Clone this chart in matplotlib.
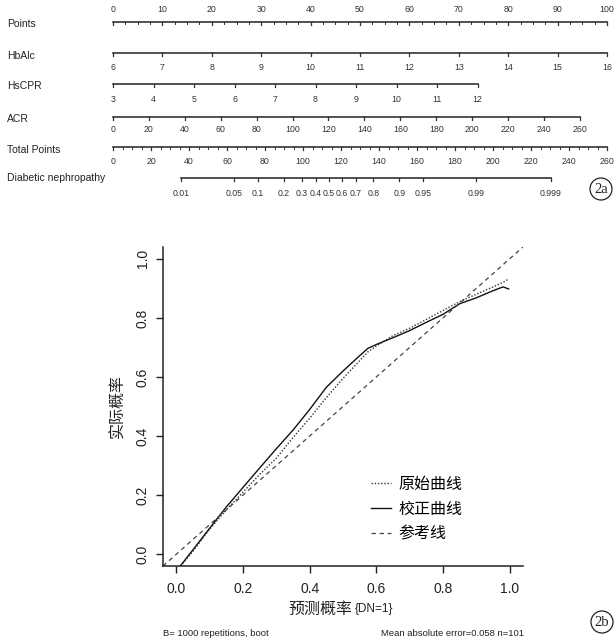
import numpy as np
import matplotlib.pyplot as plt
from matplotlib.patches import Circle

plt.rcParams['font.family'] = ['Liberation Sans', 'DejaVu Sans']
CJK = ['Noto Sans CJK SC', 'DejaVu Sans']

# ---- nomogram (figure 2a) ----
points_ticks = np.arange(0, 101, 10)
hba1c_ticks = np.arange(6, 17, 1)
hscpr_ticks = np.arange(3, 13, 1)
acr_ticks = np.arange(0, 261, 20)
total_ticks = np.arange(0, 261, 20)
dn_probs = [0.01, 0.05, 0.1, 0.2, 0.3, 0.4, 0.5, 0.6, 0.7, 0.8, 0.9, 0.95, 0.99, 0.999]
dn_labels = ["0.01", "0.05", "0.1", "0.2", "0.3", "0.4", "0.5", "0.6", "0.7",
             "0.8", "0.9", "0.95", "0.99", "0.999"]

# points reached at the highest value of each predictor
hba1c_max_points = 100.0
hscpr_max_points = 73.8
acr_max_points = 94.5
# linear predictor = intercept + slope * total points
lp_intercept = -6.711
lp_slope = 0.0591

# ---- calibration curve (figure 2b) ----
pred_prob = [0.012, 0.05, 0.10, 0.15, 0.20, 0.25, 0.30, 0.35, 0.40, 0.45, 0.50,
             0.55, 0.575, 0.60, 0.65, 0.70, 0.75, 0.80, 0.85, 0.90, 0.95, 0.98, 0.997]
apparent = [-0.04, 0.01, 0.085, 0.15, 0.21, 0.27, 0.325, 0.395, 0.46, 0.53, 0.595,
            0.655, 0.685, 0.705, 0.74, 0.765, 0.795, 0.825, 0.855, 0.88, 0.905, 0.92, 0.932]
corrected = [-0.04, 0.015, 0.088, 0.16, 0.226, 0.292, 0.357, 0.42, 0.49, 0.565, 0.62,
             0.672, 0.697, 0.71, 0.733, 0.757, 0.785, 0.812, 0.848, 0.868, 0.892, 0.905, 0.898]

fig = plt.figure(figsize=(6.14, 6.41), dpi=100)

# overlay in pixel coordinates for the nomogram and annotations
nom = fig.add_axes([0, 0, 1, 1])
nom.set_xlim(0, 614)
nom.set_ylim(641, 0)
nom.axis('off')

x0, x100 = 113, 607
px_per_point = (x100 - x0) / 100.0
px_per_total = (x100 - x0) / 260.0
line_col = '#333333'
num_size = 6.3
row_size = 7.5


def scale_row(name, name_y, line_y, pos, labels, label_y, minor=None):
    nom.text(7, name_y, name, ha='left', va='center', fontsize=row_size, color='#222')
    nom.plot([pos[0], pos[-1]], [line_y, line_y], color=line_col, lw=1.2)
    for p in pos:
        nom.plot([p, p], [line_y, line_y + 3], color=line_col, lw=0.9)
    if minor is not None:
        for p in minor:
            nom.plot([p, p], [line_y, line_y + 2], color=line_col, lw=0.7)
    for p, lab in zip(pos, labels):
        nom.text(p, label_y, lab, ha='center', va='center', fontsize=num_size, color='#333')


scale_row('Points', 24, 22, x0 + points_ticks * px_per_point,
          [str(v) for v in points_ticks], 10,
          minor=x0 + np.arange(0, 100.1, 2.5) * px_per_point)

hb_pts = (hba1c_ticks - hba1c_ticks[0]) / (hba1c_ticks[-1] - hba1c_ticks[0]) * hba1c_max_points
scale_row('HbAlc', 56, 53, x0 + hb_pts * px_per_point,
          [str(v) for v in hba1c_ticks], 68)

hs_pts = (hscpr_ticks - hscpr_ticks[0]) / (hscpr_ticks[-1] - hscpr_ticks[0]) * hscpr_max_points
scale_row('HsCPR', 86, 84, x0 + hs_pts * px_per_point,
          [str(v) for v in hscpr_ticks], 100)

acr_pts = (acr_ticks - acr_ticks[0]) / (acr_ticks[-1] - acr_ticks[0]) * acr_max_points
scale_row('ACR', 119, 117, x0 + acr_pts * px_per_point,
          [str(v) for v in acr_ticks], 130)

scale_row('Total Points', 150, 147, x0 + total_ticks * px_per_total,
          [str(v) for v in total_ticks], 161,
          minor=x0 + np.arange(0, 260.1, 5) * px_per_total)

p = np.array(dn_probs)
dn_total = (np.log(p / (1 - p)) - lp_intercept) / lp_slope
scale_row('Diabetic nephropathy', 178, 178, x0 + dn_total * px_per_total,
          dn_labels, 193)


def circled(x, y, s):
    nom.add_patch(Circle((x, y), 11, fill=False, lw=0.9, ec='#222'))
    nom.text(x, y + 0.5, s, ha='center', va='center', fontsize=10.5,
             family=['Liberation Serif', 'DejaVu Serif'], color='#222')


circled(601, 189, '2a')
circled(602, 622, '2b')

# calibration axes
ax = fig.add_axes([163 / 614, 1 - 566 / 641, 360 / 614, 319 / 641])
ax.set_xlim(-0.04, 1.04)
ax.set_ylim(-0.04, 1.04)
ax.patch.set_alpha(0)
for s in ['top', 'right']:
    ax.spines[s].set_visible(False)
for s in ['left', 'bottom']:
    ax.spines[s].set_linewidth(1.1)
    ax.spines[s].set_color('#222')

ticks = np.arange(0, 1.01, 0.2)
ax.set_xticks(ticks)
ax.set_yticks(ticks)
ax.set_xticklabels([f'{t:.1f}' for t in ticks])
ax.set_yticklabels([f'{t:.1f}' for t in ticks], rotation=90, va='center')
ax.tick_params(length=5, width=1, colors='#222', labelsize=10)
ax.tick_params(axis='x', pad=6.5)
ax.tick_params(axis='y', pad=4.5)

ax.plot(pred_prob, apparent, color='#333', lw=1.0, ls=(0, (1, 1.3)), label='原始曲线')
ax.plot(pred_prob, corrected, color='#111', lw=1.0, ls='-', label='校正曲线')
ax.axline((0, 0), (1, 1), color='#444', lw=0.9, ls=(0, (3.5, 3)), label='参考线')

ax.legend(loc='upper left', bbox_to_anchor=(371 / 614, 1 - 476 / 641),
          bbox_transform=fig.transFigure, frameon=False, borderpad=0,
          borderaxespad=0, handlelength=1.25, handletextpad=0.45,
          labelspacing=0.5, prop={'family': CJK, 'size': 11.5})

nom.text(118, 406, '实际概率', rotation=90, ha='center', va='center',
         fontsize=11.5, family=CJK, color='#222')
nom.text(352, 609, '预测概率', ha='right', va='center', fontsize=11.5,
         family=CJK, color='#222')
nom.text(355, 609, '{DN=1}', ha='left', va='center', fontsize=8.5, color='#222')
nom.text(163, 633, 'B= 1000 repetitions, boot', ha='left', va='center',
         fontsize=6.8, color='#222')
nom.text(524, 633, 'Mean absolute error=0.058 n=101', ha='right', va='center',
         fontsize=6.8, color='#222')

fig.savefig('out.png', dpi=100)
